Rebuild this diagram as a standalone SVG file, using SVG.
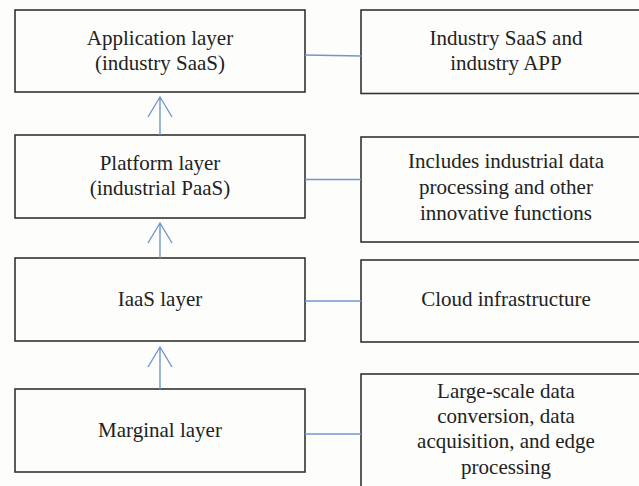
<svg xmlns="http://www.w3.org/2000/svg" width="639" height="486" viewBox="0 0 639 486">
<style>
.box{fill:#fdfdfb;stroke:#333;stroke-width:1.6}
.t{font-family:"Liberation Serif","Times New Roman",serif;font-size:21px;fill:#222;text-anchor:middle}
.c{stroke:#7097cc;stroke-width:1.4;fill:none}
</style>
<rect width="639" height="486" fill="#fdfdfb"/>
<g id="app">
<rect class="box" x="15" y="10" width="290" height="82"/>
<text class="t" x="160" y="45">Application layer</text>
<text class="t" x="160" y="70">(industry SaaS)</text>
</g>
<g id="app-desc">
<rect class="box" x="361" y="10" width="290" height="83.5"/>
<text class="t" x="506" y="45">Industry SaaS and</text>
<text class="t" x="506" y="70">industry APP</text>
</g>
<g id="platform">
<rect class="box" x="15" y="135" width="290" height="83"/>
<text class="t" x="160" y="170">Platform layer</text>
<text class="t" x="160" y="195">(industrial PaaS)</text>
</g>
<g id="platform-desc">
<rect class="box" x="361" y="137" width="290" height="105"/>
<text class="t" x="506" y="168">Includes industrial data</text>
<text class="t" x="506" y="194">processing and other</text>
<text class="t" x="506" y="220">innovative functions</text>
</g>
<g id="iaas">
<rect class="box" x="15" y="258" width="290" height="83"/>
<text class="t" x="160" y="306">IaaS layer</text>
</g>
<g id="iaas-desc">
<rect class="box" x="361" y="260" width="290" height="82"/>
<text class="t" x="506" y="306">Cloud infrastructure</text>
</g>
<g id="marginal">
<rect class="box" x="15" y="389" width="290" height="83"/>
<text class="t" x="160" y="437">Marginal layer</text>
</g>
<g id="marginal-desc">
<rect class="box" x="361" y="374" width="290" height="130"/>
<text class="t" x="506" y="398">Large-scale data</text>
<text class="t" x="506" y="423">conversion, data</text>
<text class="t" x="506" y="448">acquisition, and edge</text>
<text class="t" x="506" y="474">processing</text>
</g>
<g id="connectors">
<path class="c" d="M160 135V97M148 117L160 97L172 117"/>
<path class="c" d="M160 258V223M148 243L160 223L172 243"/>
<path class="c" d="M160 389V347M148 367L160 347L172 367"/>
<path class="c" d="M305 55L361 56"/>
<path class="c" d="M305 179.5H361"/>
<path class="c" d="M305 301H361"/>
<path class="c" d="M305 434H361"/>
</g>
</svg>
